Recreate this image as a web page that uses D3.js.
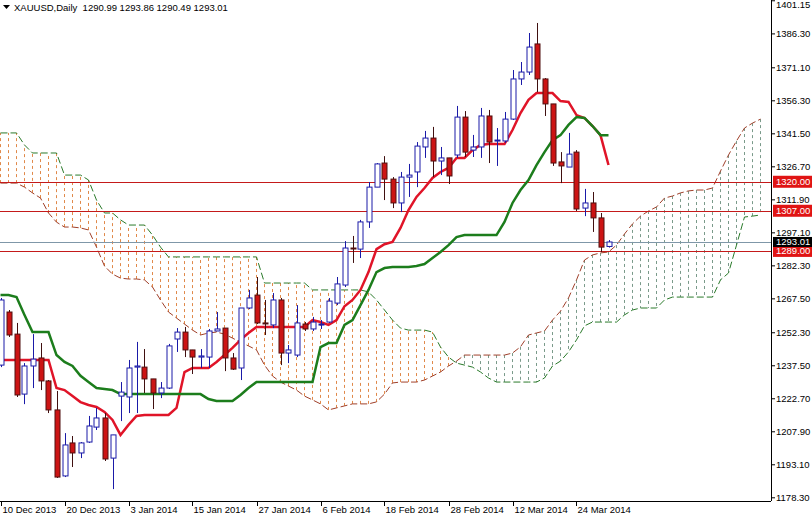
<!DOCTYPE html>
<html><head><meta charset="utf-8">
<script src="https://cdn.jsdelivr.net/npm/d3@7"></script>
<style>body{margin:0;background:#fff}svg{display:block;font-family:"Liberation Sans",Arial,sans-serif}</style>
</head><body><svg id="c" width="812" height="516"></svg>
<script>
const title = "XAUUSD,Daily  1290.99 1293.86 1290.49 1293.01";
const opens = [1237.8,1261.6,1251.7,1224.8,1237.4,1241.0,1230.7,1217.7,1188.1,1202.9,1198.4,1203.3,1210.0,1214.1,1196.1,1223.9,1223.5,1236.9,1236.9,1231.6,1225.3,1227.5,1249.5,1252.6,1244.6,1241.4,1241.4,1253.1,1254.4,1241.0,1236.5,1263.4,1269.2,1256.7,1255.8,1267.0,1243.2,1242.3,1256.2,1254.0,1255.8,1257.1,1265.6,1273.7,1290.3,1289.8,1302.0,1317.6,1328.4,1321.2,1310.5,1322.1,1324.4,1335.6,1339.6,1329.3,1330.7,1332.0,1349.0,1334.2,1335.6,1349.5,1338.3,1338.3,1348.1,1366.1,1369.2,1381.8,1366.1,1354.9,1328.9,1326.6,1333.3,1308.2,1310.5,1303.8,1290.99];
const highs = [1267.9,1262.5,1256.7,1238.7,1251.7,1247.7,1231.1,1226.2,1207.3,1206.0,1203.3,1215.0,1218.6,1216.3,1206.5,1230.2,1240.1,1248.2,1245.0,1231.6,1230.2,1247.3,1254.4,1254.9,1244.6,1245.0,1254.0,1261.6,1254.4,1243.2,1263.4,1271.5,1277.3,1267.0,1270.1,1267.9,1246.8,1264.7,1257.1,1259.4,1258.0,1267.9,1277.3,1293.4,1295.7,1302.9,1319.9,1328.4,1331.5,1322.1,1324.4,1328.0,1337.8,1342.8,1344.6,1335.6,1330.7,1354.0,1351.7,1341.0,1353.1,1352.2,1344.1,1351.3,1370.1,1373.7,1386.7,1391.2,1366.5,1354.9,1333.3,1341.9,1334.2,1316.8,1315.4,1306.0,1293.86];
const lows = [1236.9,1250.4,1223.5,1220.3,1227.5,1226.6,1216.3,1187.2,1187.6,1192.1,1196.1,1202.9,1208.7,1194.8,1182.2,1212.7,1216.3,1216.3,1225.3,1218.1,1223.0,1227.1,1243.7,1241.4,1233.8,1236.5,1236.5,1253.1,1235.1,1235.6,1231.1,1262.9,1256.2,1251.3,1254.4,1237.8,1238.7,1241.4,1253.1,1253.1,1254.0,1256.7,1264.7,1272.8,1283.6,1285.8,1299.3,1317.6,1311.8,1308.2,1306.4,1313.2,1317.6,1330.7,1322.1,1323.0,1319.0,1330.7,1331.1,1331.1,1330.7,1328.4,1327.1,1337.4,1347.7,1363.4,1367.9,1360.2,1349.5,1327.1,1319.4,1326.6,1306.9,1304.6,1297.5,1288.5,1290.49];
const closes = [1267.0,1251.3,1224.4,1237.4,1240.5,1230.7,1217.7,1187.6,1202.0,1198.4,1202.9,1210.5,1214.1,1195.7,1206.5,1225.7,1236.5,1237.4,1231.6,1225.3,1227.5,1246.4,1252.6,1244.6,1241.4,1241.9,1253.1,1254.0,1241.0,1236.0,1263.4,1267.9,1256.7,1256.5,1267.0,1243.2,1244.6,1256.7,1254.0,1257.1,1256.2,1266.5,1274.2,1290.3,1290.1,1302.0,1317.6,1328.0,1321.2,1310.5,1322.1,1323.0,1336.0,1339.6,1329.3,1330.7,1322.6,1349.0,1333.3,1335.6,1349.5,1337.8,1338.7,1348.1,1366.1,1369.2,1380.4,1366.1,1354.9,1328.4,1327.1,1332.4,1307.8,1310.5,1303.8,1290.7,1293.01];
const tenkan = [1240.1,1240.1,1240.1,1240.1,1240.1,1240.1,1240.1,1227.5,1226.6,1223.9,1221.2,1219.9,1219.0,1216.8,1213.2,1206.5,1211.0,1215.0,1215.4,1215.4,1215.4,1215.4,1218.6,1234.7,1236.5,1236.5,1236.5,1239.2,1242.3,1245.5,1249.1,1252.2,1254.9,1254.9,1254.9,1254.9,1254.9,1254.9,1254.9,1258.0,1257.1,1255.8,1258.0,1264.2,1267.0,1271.5,1279.5,1289.8,1292.0,1293.0,1299.3,1307.3,1313.2,1317.2,1321.7,1324.4,1326.2,1330.7,1330.7,1334.2,1336.5,1336.9,1336.9,1336.9,1343.2,1350.8,1356.7,1359.8,1359.8,1359.8,1356.2,1355.8,1349.9,1348.6,1345.0,1340.9,1327.5];
const kijun = [1269.2,1269.2,1268.3,1260.3,1252.6,1252.6,1252.6,1242.3,1239.2,1237.4,1233.0,1230.2,1227.5,1227.1,1226.6,1224.8,1224.8,1224.8,1224.8,1224.8,1224.8,1224.8,1224.8,1224.8,1224.8,1224.8,1222.6,1221.7,1221.7,1221.7,1224.4,1227.5,1230.2,1230.2,1230.2,1230.2,1230.2,1230.2,1230.2,1230.2,1245.9,1247.7,1247.7,1255.8,1258.0,1264.7,1271.5,1279.5,1281.3,1281.8,1281.8,1281.8,1282.2,1283.1,1285.8,1288.5,1291.6,1295.2,1296.1,1296.1,1296.1,1296.1,1296.1,1302.0,1310.5,1316.3,1320.8,1327.5,1333.3,1338.7,1340.9,1345.5,1349.0,1348.6,1345.0,1340.9,1340.9];
const spanA = [1319.4,1319.4,1319.4,1317.6,1315.0,1312.7,1306.0,1301.9,1299.7,1299.7,1299.3,1298.4,1290.7,1282.2,1278.6,1276.8,1276.4,1276.4,1276.0,1272.8,1267.0,1261.6,1258.9,1256.2,1253.5,1251.3,1252.2,1252.6,1251.7,1249.9,1248.1,1246.4,1244.6,1237.8,1232.9,1230.2,1228.4,1226.6,1223.9,1222.2,1220.4,1217.7,1218.6,1219.5,1220.4,1220.4,1220.4,1221.3,1224.8,1229.8,1230.2,1230.2,1230.2,1231.1,1232.9,1234.7,1237.4,1239.6,1242.3,1242.3,1242.3,1242.3,1242.3,1242.3,1243.2,1246.0,1251.3,1252.2,1253.1,1258.0,1262.0,1267.9,1276.0,1284.9,1287.2,1288.1,1288.5,1291.6,1296.6,1301.1,1304.6,1306.9,1308.7,1312.7,1313.6,1315.0,1315.9,1316.3,1316.3,1317.2,1324.8,1332.0,1338.3,1344.1,1346.3,1348.1];
const spanB = [1341.9,1341.9,1341.9,1336.5,1332.9,1332.9,1332.9,1332.9,1323.0,1323.0,1323.0,1320.8,1311.8,1306.0,1306.0,1302.9,1300.6,1300.6,1300.6,1296.1,1290.7,1286.3,1286.3,1286.3,1286.3,1286.3,1286.3,1286.3,1286.3,1286.3,1286.3,1286.3,1286.3,1274.6,1274.6,1274.6,1274.6,1274.6,1274.6,1271.5,1271.5,1271.5,1271.5,1271.5,1271.5,1271.5,1270.6,1267.0,1262.5,1258.0,1254.4,1253.5,1253.5,1253.5,1252.6,1245.9,1241.4,1238.7,1237.8,1236.9,1234.7,1232.0,1230.2,1230.2,1230.2,1230.2,1230.2,1230.2,1232.0,1237.4,1239.6,1243.7,1249.1,1255.4,1257.1,1257.1,1257.1,1257.1,1260.3,1262.5,1263.4,1263.4,1263.4,1267.0,1268.3,1268.3,1268.3,1268.3,1268.3,1268.3,1276.0,1279.1,1291.6,1304.2,1304.6,1305.1];
const priceTicks = [1401.15,1386.30,1371.10,1356.30,1341.50,1326.70,1311.90,1297.10,1282.30,1267.50,1252.30,1237.50,1222.70,1207.90,1193.10,1178.30];
const dateLabels = ["10 Dec 2013","20 Dec 2013","3 Jan 2014","15 Jan 2014","27 Jan 2014","6 Feb 2014","18 Feb 2014","28 Feb 2014","12 Mar 2014","24 Mar 2014"];
const dateIdx = [0,8,16,24,32,40,48,56,64,72];
const levels = [1320.00,1307.00,1289.00];
const lastPrice = 1293.01;

const svg = d3.select("#c");
const W=771, H=501;
const x = d3.scaleLinear().domain([0,76]).range([0.5,608.5]);
const y = d3.scaleLinear().domain([1178.3,1401.5]).range([497.8,0]);
const defs = svg.append("defs");
defs.append("clipPath").attr("id","pc").append("rect").attr("x",0).attr("y",0).attr("width",W).attr("height",H);
const g = svg.append("g").attr("clip-path","url(#pc)");

spanA.forEach((a,i)=>{
  const b = spanB[i];
  g.append("line").attr("x1",x(i)).attr("x2",x(i)).attr("y1",y(a)).attr("y2",y(b))
   .attr("stroke", b>a ? "#e0894a" : "#7a9a8a").attr("stroke-width",1).attr("stroke-dasharray","3,3");
});
const ln = d3.line().x((d,i)=>x(i)).y(d=>y(d));
g.append("path").attr("d",ln(spanA)).attr("fill","none").attr("stroke","#a0402a").attr("stroke-width",1).attr("stroke-dasharray","7,3");
g.append("path").attr("d",ln(spanB)).attr("fill","none").attr("stroke","#2a7a2a").attr("stroke-width",1).attr("stroke-dasharray","7,3");

levels.forEach(l=>g.append("line").attr("x1",0).attr("x2",W).attr("y1",Math.round(y(l))+0.5).attr("y2",Math.round(y(l))+0.5).attr("stroke","#c41a1a").attr("stroke-width",1));
g.append("line").attr("x1",0).attr("x2",W).attr("y1",Math.round(y(lastPrice))+0.5).attr("y2",Math.round(y(lastPrice))+0.5).attr("stroke","#7f97a8").attr("stroke-width",1);

g.append("path").attr("d",ln(tenkan)).attr("fill","none").attr("stroke","#e01428").attr("stroke-width",2.5);
g.append("path").attr("d",ln(kijun)).attr("fill","none").attr("stroke","#1c7d1c").attr("stroke-width",2.5);

opens.forEach((o,i)=>{
  const c=closes[i], up=c>=o, cx=Math.round(x(i))+0.5;
  const col = up ? "#1a1aa8" : "#401010";
  g.append("line").attr("x1",cx).attr("x2",cx).attr("y1",y(highs[i])).attr("y2",y(lows[i])).attr("stroke",col).attr("stroke-width",1);
  const top=y(Math.max(o,c)), bot=y(Math.min(o,c));
  g.append("rect").attr("x",cx-2.5).attr("y",top).attr("width",5).attr("height",Math.max(1,bot-top))
    .attr("fill", up ? "#fff" : "#cc1414").attr("stroke", up ? "#1a1aa8" : "#501010").attr("stroke-width",1);
});

svg.append("line").attr("x1",W+0.5).attr("x2",W+0.5).attr("y1",0).attr("y2",H).attr("stroke","#000");
svg.append("line").attr("x1",0).attr("x2",W).attr("y1",H+0.5).attr("y2",H+0.5).attr("stroke","#000");
priceTicks.forEach(p=>{
  const yy=y(p);
  svg.append("line").attr("x1",W).attr("x2",W+4).attr("y1",yy).attr("y2",yy).attr("stroke","#000");
  svg.append("text").attr("x",776).attr("y",Math.max(8,yy+3.5)).attr("font-size",9.5).attr("fill","#000").text(p.toFixed(2));
});
levels.forEach(l=>{
  const yy=y(l);
  svg.append("rect").attr("x",773).attr("y",yy-6).attr("width",39).attr("height",12).attr("fill","#e01414");
  svg.append("text").attr("x",776).attr("y",yy+3.5).attr("font-size",9.5).attr("fill","#fff").text(l.toFixed(2));
});
{
  const yy=y(lastPrice);
  svg.append("rect").attr("x",773).attr("y",yy-5).attr("width",39).attr("height",10).attr("fill","#000");
  svg.append("text").attr("x",776).attr("y",yy+3.5).attr("font-size",9.5).attr("fill","#fff").text(lastPrice.toFixed(2));
}
dateIdx.forEach((d,k)=>{
  const xx=Math.round(x(d))+0.5;
  svg.append("line").attr("x1",xx).attr("x2",xx).attr("y1",H).attr("y2",H+5).attr("stroke","#000");
  svg.append("text").attr("x",xx+1).attr("y",513).attr("font-size",9.5).attr("fill","#000").text(dateLabels[k]);
});
svg.append("path").attr("d","M3,5 L10,5 L6.5,9 Z").attr("fill","#000");
svg.append("text").attr("x",14).attr("y",11).attr("font-size",9.5).attr("fill","#000").style("white-space","pre").text(title);
</script></body></html>
